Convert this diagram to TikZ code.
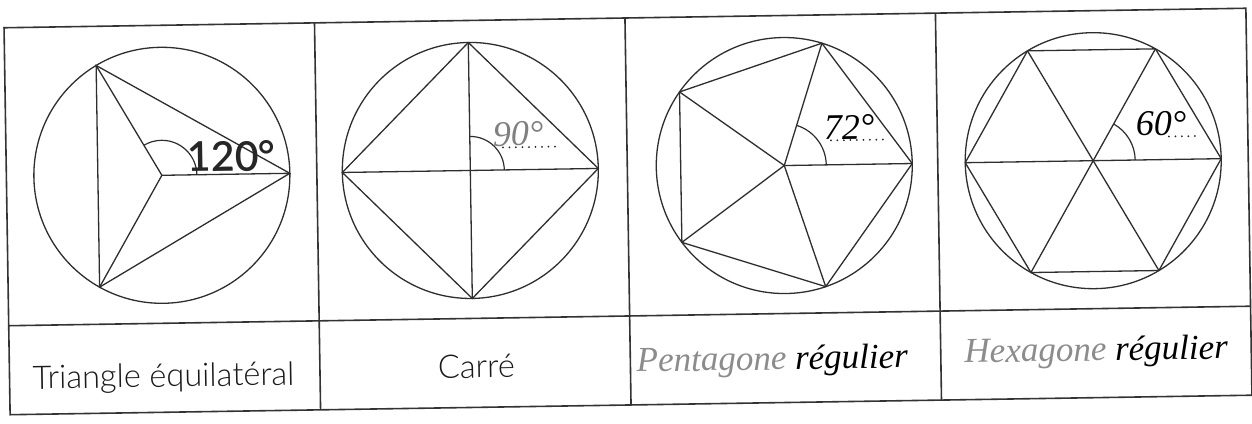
\documentclass[tikz,border=0pt]{standalone}
\usepackage{fontspec}
\setmainfont{Lato}
\newfontfamily\labelfont{Lato Light}
\newfontfamily\numfont{Lato Semibold}
\newfontfamily\handfont{Liberation Serif}
\tikzset{
  frameline/.style={line width=1.6pt, draw=black!80},
  geom/.style={line width=1.3pt, draw=black!82},
  angarc/.style={line width=1.2pt, draw=black!82},
  dotline/.style={line width=2pt, dash pattern=on 0pt off 6.5pt, line cap=round, draw=black!85},
  print/.style={font=\labelfont\fontsize{32.5}{34}\selectfont, anchor=base, inner sep=0pt, text=black!90},
  hand/.style={font=\handfont\itshape\fontsize{35}{37}\selectfont, anchor=base, inner sep=0pt},
  handnum/.style={font=\handfont\itshape\fontsize{36}{38}\selectfont, anchor=base west, inner sep=0pt},
}
\begin{document}
\begin{tikzpicture}[x=1pt,y=1pt]
\useasboundingbox (0,0) rectangle (1252,423);
\fill[white] (0,0) rectangle (1252,423);
\begin{scope}[rotate around={0.9:(627,211)}, transform shape]
  % table
  \draw[frameline] (7,18) rectangle (1249,405);
  \draw[frameline] (7,107) -- (1249,107);
  \foreach \x in {317.5,628,938.5} \draw[frameline] (\x,18) -- (\x,405);

  % triangle
  \coordinate (O1) at (162.5,255);
  \draw[geom] (O1) circle (128);
  \foreach \i in {0,1,2} \path (O1) ++(\i*120:128) coordinate (T\i);
  \draw[geom] (T0) -- (T1) -- (T2) -- cycle;
  \foreach \i in {0,1,2} \draw[geom] (O1) -- (T\i);
  \draw[angarc] (O1) ++(35,0) arc[start angle=0, end angle=120, radius=35];
  \node[font=\numfont\fontsize{41}{43}\selectfont, anchor=base west, inner sep=0pt, text=black!85] (a120) at (188,258) {120°};

  % square
  \coordinate (O2) at (471,255);
  \draw[geom] (O2) circle (128);
  \foreach \i in {0,1,2,3} \path (O2) ++(\i*90:128) coordinate (S\i);
  \draw[geom] (S0) -- (S1) -- (S2) -- (S3) -- cycle;
  \draw[geom] (S0) -- (S2);
  \draw[geom] (S1) -- (S3);
  \draw[angarc] (O2) ++(34,0) arc[start angle=0, end angle=90, radius=34];
  \draw[dotline] (504,277.5) -- (558,277.5);
  \node[handnum, text=black!50] (a90) at (494,279) {90°};

  % pentagon
  \coordinate (O3) at (785,255);
  \draw[geom] (O3) circle (128);
  \foreach \i in {0,...,4} \path (O3) ++(\i*72:128) coordinate (P\i);
  \draw[geom] (P0) -- (P1) -- (P2) -- (P3) -- (P4) -- cycle;
  \foreach \i in {0,...,4} \draw[geom] (O3) -- (P\i);
  \draw[angarc] (O3) ++(42,0) arc[start angle=0, end angle=72, radius=42];
  \draw[dotline] (832,279.4) -- (889,279.4);
  \node[handnum, text=black] (a72) at (825,280.5) {72°};

  % hexagon
  \coordinate (O4) at (1094,255);
  \draw[geom] (O4) circle (128);
  \foreach \i in {0,...,5} \path (O4) ++(\i*60:128) coordinate (H\i);
  \draw[geom] (H0) -- (H1) -- (H2) -- (H3) -- (H4) -- (H5) -- cycle;
  \draw[geom] (H0) -- (H3);
  \draw[geom] (H1) -- (H4);
  \draw[geom] (H2) -- (H5);
  \draw[angarc] (O4) ++(42,0) arc[start angle=0, end angle=60, radius=42];
  \draw[dotline] (1170,278) -- (1198,278);
  \node[handnum, text=black] (a60) at (1137,279) {60°};

  % labels
  \node[print] (lt) at (161,43.3) {Triangle équilatéral};
  \node[print] (lc) at (474,47.4) {Carré};
  \node[hand] (lp) at (770,51) {{\color{black!45}Pentagone} régulier};
  \node[hand] (lh) at (1094,55) {{\color{black!45}Hexagone} régulier};
\end{scope}
\end{tikzpicture}
\end{document}
